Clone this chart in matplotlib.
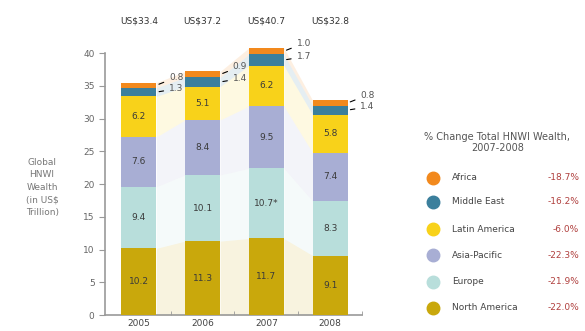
import matplotlib.pyplot as plt
from matplotlib.lines import Line2D
import numpy as np

years = ['2005', '2006', '2007', '2008']
totals = ['US$33.4', 'US$37.2', 'US$40.7', 'US$32.8']

regions = ['North America', 'Europe', 'Asia-Pacific', 'Latin America', 'Middle East', 'Africa']
north_america = [10.2, 11.3, 11.7, 9.1]
europe = [9.4, 10.1, 10.7, 8.3]
asia_pacific = [7.6, 8.4, 9.5, 7.4]
latin_america = [6.2, 5.1, 6.2, 5.8]
middle_east = [1.3, 1.4, 1.7, 1.4]
africa = [0.8, 0.9, 1.0, 0.8]
europe_labels = ['9.4', '10.1', '10.7*', '8.3']

pct_change = ['-22.0%', '-21.9%', '-22.3%', '-6.0%', '-16.2%', '-18.7%']

colors = ['#c9a80c', '#b8dedb', '#a8aed4', '#f8d21a', '#3b7f9c', '#f2891d']
series = [north_america, europe, asia_pacific, latin_america, middle_east, africa]

fig = plt.figure(figsize=(5.85, 3.31), dpi=100)
ax = fig.add_axes([0.1795, 0.048, 0.4393, 0.831])

x = np.arange(len(years))
w = 0.55
bottom = np.zeros(len(years))
for vals, col in zip(series, colors):
    vals = np.array(vals)
    ax.bar(x, vals, w, bottom=bottom, color=col, zorder=3)
    # pale ribbons linking the bars
    for i in range(len(years) - 1):
        xs = [x[i] + w / 2, x[i + 1] - w / 2]
        ax.fill_between(xs, [bottom[i], bottom[i + 1]],
                        [bottom[i] + vals[i], bottom[i + 1] + vals[i + 1]],
                        color=col, alpha=0.13, lw=0, zorder=1)
    bottom = bottom + vals

# labels inside the bars
bottom = np.zeros(len(years))
for k, vals in enumerate(series[:4]):
    for i in range(len(years)):
        lab = europe_labels[i] if k == 1 else '%.1f' % vals[i]
        ax.text(x[i], bottom[i] + vals[i] / 2, lab, ha='center', va='center',
                fontsize=6.5, color='#3a3a3a', zorder=4)
    bottom = bottom + np.array(vals)

# small segments labelled on the side
for i in range(len(years)):
    me_mid = bottom[i] + middle_east[i] / 2
    af_mid = bottom[i] + middle_east[i] + africa[i] / 2
    ax.annotate('%.1f' % africa[i], xy=(x[i] + w / 2, af_mid),
                xytext=(x[i] + w / 2 + 0.2, af_mid + 1.2), fontsize=6.5,
                color='#555555', va='center',
                arrowprops=dict(arrowstyle='-', color='black', lw=0.8), zorder=5)
    ax.annotate('%.1f' % middle_east[i], xy=(x[i] + w / 2, me_mid),
                xytext=(x[i] + w / 2 + 0.2, me_mid + 0.5), fontsize=6.5,
                color='#555555', va='center',
                arrowprops=dict(arrowstyle='-', color='black', lw=0.8), zorder=5)
    ax.text(x[i], 1.07, totals[i], transform=ax.get_xaxis_transform(),
            ha='center', va='center', fontsize=6.5, color='#333333')

ax.set_xlim(-0.53, 3.5)
ax.set_ylim(0, 42)
ax.set_yticks(range(0, 41, 5))
ax.set_xticks(x)
ax.set_xticklabels(years)
ax.set_xticks([0.5, 1.5, 2.5, 3.5], minor=True)
ax.tick_params(axis='x', which='major', length=0, labelsize=6.5, colors='#444444', pad=3)
ax.tick_params(axis='x', which='minor', length=3, direction='in', color='#999999')
ax.tick_params(axis='y', length=4, labelsize=6.5, colors='#666666', color='#999999')
for s in ['top', 'right']:
    ax.spines[s].set_visible(False)
ax.spines['left'].set_bounds(0, 40)
ax.spines['left'].set_color('#999999')
ax.spines['bottom'].set_color('#999999')
ax.spines['left'].set_linewidth(1.2)
ax.spines['bottom'].set_linewidth(1.2)

fig.text(0.072, 0.435, 'Global\nHNWI\nWealth\n(in US$\nTrillion)', ha='center',
         va='center', fontsize=6.5, color='#777777', linespacing=1.5)

# legend panel
fig.text(0.85, 0.57, '% Change Total HNWI Wealth,\n2007-2008', ha='center',
         va='center', fontsize=7, color='#555555', linespacing=1.2)
row_y = [308, 282, 255, 229, 202, 178]
for name, col, pct, yy in zip(regions, colors, pct_change, row_y):
    fy = 1 - yy / 331
    fig.add_artist(Line2D([433 / 585], [fy], marker='o', markersize=9, color=col,
                          transform=fig.transFigure))
    fig.text(452 / 585, fy, name, va='center', fontsize=6.5, color='#444444')
    fig.text(0.99, fy, pct, va='center', ha='right', fontsize=6.5, color='#b0403e')

fig.savefig('out.png', dpi=100)
